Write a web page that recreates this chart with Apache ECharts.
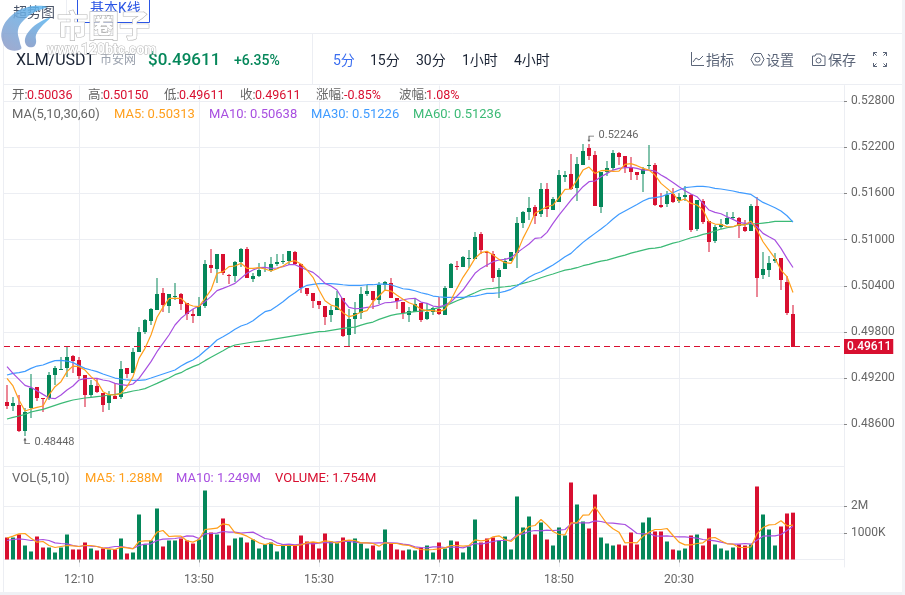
<!DOCTYPE html>
<html>
<head>
<meta charset="utf-8">
<title>XLM/USDT</title>
<script src="https://cdn.jsdelivr.net/npm/echarts@6/dist/echarts.min.js"></script>
<style>
  html, body { margin: 0; padding: 0; background: #fff; }
  #chart { width: 905px; height: 595px; }
</style>
</head>
<body>
<div id="chart"></div>
<script>
// 5 minute candles
const opens = [
  0.48891,0.48839,0.48852,0.48515,0.48813,0.49086,0.48943,0.48943,0.49241,0.49311,
  0.49332,0.49488,0.49436,0.49241,0.48982,0.49099,0.49008,0.48878,0.48969,0.48956,
  0.49332,0.49267,0.49540,0.49800,0.49943,0.50086,0.50307,0.50138,0.50263,0.50294,
  0.50177,0.50034,0.50008,0.50138,0.50670,0.50618,0.50813,0.50545,0.50527,0.50709,
  0.50878,0.50488,0.50527,0.50636,0.50605,0.50683,0.50709,0.50722,0.50839,0.50683,
  0.50371,0.50306,0.50202,0.50137,0.50020,0.50085,0.50241,0.49760,0.49968,0.50046,
  0.50293,0.50332,0.50215,0.50410,0.50436,0.50241,0.50189,0.50020,0.50059,0.50176,
  0.49968,0.50059,0.50098,0.50020,0.50371,0.50657,0.50644,0.50752,0.50748,0.51072,
  0.50839,0.50813,0.50514,0.50618,0.50722,0.50826,0.51215,0.51358,0.51423,0.51332,
  0.51657,0.51384,0.51488,0.51813,0.51851,0.51670,0.51968,0.52189,0.52098,0.51423,
  0.51877,0.51929,0.52124,0.52085,0.51942,0.51877,0.51851,0.51960,0.51968,0.51449,
  0.51462,0.51592,0.51501,0.51553,0.51579,0.51137,0.51501,0.51241,0.50981,0.51163,
  0.51202,0.51280,0.51280,0.51163,0.51111,0.51436,0.50540,0.50605,0.50722,0.50761,
  0.50449,0.50036
];
const closes = [
  0.48839,0.48878,0.48515,0.48761,0.49073,0.48943,0.48930,0.49241,0.49332,0.49319,
  0.49475,0.49423,0.49228,0.48982,0.49112,0.49021,0.48852,0.48982,0.48930,0.49319,
  0.49255,0.49540,0.49800,0.49956,0.50099,0.50294,0.50151,0.50294,0.50272,0.50164,
  0.50034,0.50008,0.50138,0.50683,0.50631,0.50813,0.50566,0.50536,0.50709,0.50878,
  0.50501,0.50527,0.50605,0.50644,0.50683,0.50709,0.50717,0.50852,0.50683,0.50371,
  0.50293,0.50202,0.50150,0.49994,0.50085,0.50241,0.49747,0.49968,0.50046,0.50293,
  0.50332,0.50215,0.50410,0.50449,0.50241,0.50202,0.50046,0.50072,0.50163,0.49955,
  0.50059,0.50111,0.50033,0.50371,0.50683,0.50644,0.50774,0.50761,0.51033,0.50865,
  0.50821,0.50501,0.50605,0.50722,0.50839,0.51215,0.51358,0.51410,0.51306,0.51657,
  0.51397,0.51527,0.51838,0.51838,0.51657,0.51981,0.52150,0.52085,0.51436,0.51877,
  0.51929,0.52124,0.52072,0.51942,0.51877,0.51838,0.51916,0.51968,0.51449,0.51423,
  0.51579,0.51488,0.51553,0.51579,0.51124,0.51514,0.51228,0.50968,0.51163,0.51202,
  0.51280,0.51288,0.51176,0.51111,0.51436,0.50501,0.50618,0.50696,0.50748,0.50475,
  0.50046,0.49611
];
const lows = [
  0.48800,0.48774,0.48506,0.48448,0.48683,0.48900,0.48761,0.48917,0.49112,0.49306,
  0.49220,0.49263,0.49189,0.48830,0.48960,0.49003,0.48761,0.48787,0.48930,0.48934,
  0.49202,0.49263,0.49540,0.49774,0.49891,0.50086,0.50064,0.50047,0.50216,0.50086,
  0.49956,0.49917,0.50008,0.50112,0.50562,0.50432,0.50540,0.50424,0.50450,0.50640,
  0.50497,0.50450,0.50510,0.50579,0.50583,0.50657,0.50683,0.50665,0.50665,0.50310,
  0.50267,0.50111,0.50098,0.49890,0.49929,0.50085,0.49734,0.49618,0.49773,0.49968,
  0.50267,0.50094,0.50163,0.50332,0.50241,0.50098,0.49968,0.49929,0.50059,0.49929,
  0.49955,0.50020,0.50020,0.50020,0.50371,0.50605,0.50644,0.50631,0.50748,0.50813,
  0.50644,0.50449,0.50241,0.50618,0.50722,0.50631,0.51150,0.51254,0.51202,0.51293,
  0.51293,0.51384,0.51488,0.51748,0.51644,0.51501,0.51968,0.52033,0.51436,0.51345,
  0.51826,0.51903,0.51968,0.51864,0.51774,0.51774,0.51618,0.51916,0.51436,0.51410,
  0.51423,0.51475,0.51475,0.51501,0.51098,0.51111,0.51202,0.50838,0.50955,0.51137,
  0.51189,0.51254,0.51020,0.51098,0.51111,0.50254,0.50488,0.50514,0.50696,0.50345,
  0.50020,0.49611
];
const highs = [
  0.49112,0.48960,0.48982,0.48817,0.49255,0.49086,0.48943,0.49280,0.49358,0.49475,
  0.49605,0.49501,0.49475,0.49241,0.49176,0.49189,0.49012,0.49038,0.49133,0.49423,
  0.49332,0.49592,0.49861,0.49965,0.50112,0.50501,0.50372,0.50294,0.50437,0.50307,
  0.50177,0.50099,0.50255,0.50735,0.50878,0.50813,0.50813,0.50553,0.50722,0.50891,
  0.50904,0.50566,0.50692,0.50709,0.50778,0.50813,0.50813,0.50852,0.50852,0.50683,
  0.50371,0.50306,0.50202,0.50137,0.50137,0.50332,0.50241,0.50098,0.50189,0.50384,
  0.50410,0.50332,0.50449,0.50462,0.50501,0.50241,0.50189,0.50124,0.50228,0.50176,
  0.50176,0.50124,0.50254,0.50397,0.50696,0.50722,0.50787,0.50865,0.51098,0.51098,
  0.50852,0.50852,0.50631,0.50761,0.50839,0.51293,0.51371,0.51553,0.51449,0.51735,
  0.51735,0.51553,0.51903,0.51890,0.52111,0.52072,0.52241,0.52246,0.52150,0.51877,
  0.52020,0.52163,0.52137,0.52085,0.52072,0.51877,0.51942,0.52228,0.51994,0.51605,
  0.51631,0.51670,0.51605,0.51696,0.51592,0.51514,0.51527,0.51241,0.51189,0.51267,
  0.51358,0.51358,0.51293,0.51254,0.51462,0.51553,0.50838,0.50787,0.50826,0.50761,
  0.50527,0.50150
];
const ma5 = [
  0.49198,0.49099,0.48917,0.48774,0.48800,0.48821,0.48839,0.48982,0.49090,0.49155,
  0.49285,0.49358,0.49350,0.49306,0.49220,0.49155,0.49025,0.48986,0.48982,0.49003,
  0.49090,0.49220,0.49458,0.49588,0.49761,0.49991,0.50120,0.50237,0.50237,0.50237,
  0.50164,0.50138,0.50129,0.50237,0.50346,0.50562,0.50584,0.50649,0.50657,0.50692,
  0.50627,0.50627,0.50636,0.50618,0.50592,0.50622,0.50657,0.50709,0.50726,0.50683,
  0.50605,0.50510,0.50345,0.50206,0.50150,0.50128,0.50051,0.49999,0.50020,0.50059,
  0.50077,0.50193,0.50267,0.50345,0.50332,0.50276,0.50224,0.50180,0.50150,0.50094,
  0.50077,0.50077,0.50064,0.50094,0.50215,0.50367,0.50510,0.50626,0.50756,0.50830,
  0.50847,0.50800,0.50743,0.50700,0.50691,0.50830,0.51016,0.51168,0.51341,0.51384,
  0.51427,0.51449,0.51544,0.51652,0.51657,0.51773,0.51903,0.51942,0.51860,0.51895,
  0.51899,0.51886,0.51890,0.51977,0.51986,0.51960,0.51925,0.51903,0.51838,0.51730,
  0.51665,0.51600,0.51501,0.51527,0.51470,0.51449,0.51384,0.51232,0.51202,0.51198,
  0.51167,0.51167,0.51198,0.51189,0.51241,0.51124,0.50972,0.50864,0.50756,0.50604,
  0.50518,0.50313
];
const ma10 = [
  0.49350,0.49263,0.49185,0.49107,0.49081,0.49038,0.48990,0.48943,0.48934,0.48982,
  0.49047,0.49099,0.49177,0.49194,0.49198,0.49198,0.49177,0.49164,0.49133,0.49116,
  0.49107,0.49125,0.49198,0.49306,0.49415,0.49544,0.49653,0.49761,0.49891,0.49978,
  0.50042,0.50099,0.50138,0.50194,0.50259,0.50337,0.50367,0.50398,0.50432,0.50497,
  0.50562,0.50605,0.50636,0.50640,0.50626,0.50631,0.50648,0.50674,0.50674,0.50639,
  0.50605,0.50574,0.50510,0.50432,0.50397,0.50345,0.50215,0.50120,0.50102,0.50107,
  0.50120,0.50128,0.50150,0.50180,0.50185,0.50198,0.50219,0.50232,0.50237,0.50189,
  0.50172,0.50137,0.50128,0.50150,0.50193,0.50267,0.50345,0.50453,0.50562,0.50626,
  0.50670,0.50713,0.50735,0.50743,0.50765,0.50830,0.50886,0.50943,0.51016,0.51024,
  0.51094,0.51211,0.51319,0.51414,0.51514,0.51600,0.51687,0.51752,0.51761,0.51817,
  0.51860,0.51903,0.51925,0.51934,0.51938,0.51925,0.51903,0.51903,0.51890,0.51838,
  0.51795,0.51743,0.51687,0.51635,0.51592,0.51557,0.51470,0.51384,0.51353,0.51336,
  0.51297,0.51263,0.51224,0.51211,0.51211,0.51167,0.51081,0.51037,0.50994,0.50886,
  0.50756,0.50638
];
const ma30 = [
  0.49241,0.49263,0.49272,0.49289,0.49328,0.49358,0.49371,0.49402,0.49428,0.49432,
  0.49423,0.49402,0.49363,0.49328,0.49306,0.49285,0.49254,0.49228,0.49202,0.49190,
  0.49177,0.49172,0.49172,0.49177,0.49202,0.49228,0.49254,0.49280,0.49306,0.49358,
  0.49402,0.49436,0.49488,0.49557,0.49622,0.49696,0.49739,0.49783,0.49835,0.49878,
  0.49904,0.49947,0.50008,0.50064,0.50085,0.50137,0.50193,0.50258,0.50310,0.50367,
  0.50406,0.50419,0.50427,0.50427,0.50427,0.50423,0.50414,0.50406,0.50406,0.50406,
  0.50414,0.50414,0.50423,0.50423,0.50414,0.50388,0.50362,0.50354,0.50336,0.50310,
  0.50293,0.50267,0.50258,0.50250,0.50250,0.50250,0.50250,0.50258,0.50267,0.50284,
  0.50302,0.50302,0.50310,0.50328,0.50354,0.50397,0.50453,0.50510,0.50553,0.50583,
  0.50626,0.50669,0.50721,0.50778,0.50821,0.50895,0.50964,0.51024,0.51081,0.51137,
  0.51198,0.51267,0.51328,0.51371,0.51414,0.51457,0.51501,0.51535,0.51544,0.51557,
  0.51587,0.51609,0.51644,0.51674,0.51683,0.51691,0.51691,0.51683,0.51665,0.51657,
  0.51644,0.51631,0.51613,0.51600,0.51587,0.51535,0.51483,0.51449,0.51414,0.51371,
  0.51310,0.51226
];
const ma60 = [
  0.48670,0.48691,0.48709,0.48730,0.48761,0.48778,0.48795,0.48821,0.48847,0.48873,
  0.48895,0.48917,0.48930,0.48943,0.48951,0.48960,0.48969,0.48982,0.48990,0.48999,
  0.49016,0.49034,0.49047,0.49064,0.49099,0.49133,0.49168,0.49202,0.49246,0.49272,
  0.49315,0.49350,0.49380,0.49428,0.49471,0.49514,0.49557,0.49601,0.49631,0.49644,
  0.49657,0.49670,0.49679,0.49687,0.49700,0.49713,0.49726,0.49739,0.49752,0.49765,
  0.49778,0.49791,0.49804,0.49808,0.49821,0.49834,0.49847,0.49856,0.49864,0.49890,
  0.49912,0.49929,0.49964,0.49990,0.50016,0.50033,0.50042,0.50055,0.50064,0.50072,
  0.50085,0.50098,0.50116,0.50137,0.50172,0.50206,0.50237,0.50276,0.50310,0.50345,
  0.50362,0.50367,0.50380,0.50388,0.50397,0.50410,0.50432,0.50453,0.50475,0.50505,
  0.50531,0.50553,0.50579,0.50604,0.50617,0.50635,0.50661,0.50678,0.50700,0.50721,
  0.50734,0.50756,0.50778,0.50799,0.50825,0.50843,0.50864,0.50882,0.50890,0.50903,
  0.50929,0.50955,0.50972,0.50998,0.51024,0.51042,0.51068,0.51085,0.51111,0.51137,
  0.51154,0.51167,0.51189,0.51198,0.51206,0.51206,0.51215,0.51224,0.51237,0.51237,
  0.51237,0.51236
];
// volumes in millions
const volumes = [
  0.824,0.824,0.936,0.524,0.300,0.861,0.449,0.449,0.262,0.449,
  0.936,0.375,0.375,0.637,0.412,0.337,0.412,0.375,0.375,0.787,
  0.225,0.262,1.685,0.562,0.712,1.910,0.487,0.712,0.712,0.787,
  0.712,0.599,0.749,2.584,1.011,0.936,1.536,0.524,0.787,0.824,
  0.637,0.749,0.412,0.562,0.637,0.300,0.562,0.562,0.524,0.899,
  0.674,0.649,0.412,0.974,0.674,0.612,0.824,0.674,0.787,0.599,
  0.412,0.524,0.337,1.124,0.599,0.375,0.337,0.375,0.337,0.449,
  0.524,0.262,0.637,0.412,0.712,0.674,0.262,0.487,1.498,0.637,
  0.787,0.824,0.712,0.861,0.375,2.360,1.199,1.610,0.936,1.386,
  0.749,0.524,1.199,0.899,2.884,2.060,1.423,1.161,2.434,0.824,
  0.599,0.524,0.562,0.524,1.011,0.562,1.386,1.573,1.049,1.049,
  0.674,0.375,0.337,0.412,0.899,0.936,0.524,1.161,0.562,0.412,
  0.337,0.449,0.562,0.524,0.562,2.734,1.685,1.124,0.524,1.236,
  1.723,1.754
];
const volMa5 = [
  0.799,0.874,0.961,0.974,0.799,0.649,0.674,0.524,0.449,0.487,
  0.524,0.512,0.487,0.524,0.524,0.487,0.424,0.399,0.375,0.462,
  0.437,0.399,0.674,0.699,0.699,1.024,1.086,0.861,0.874,0.874,
  0.699,0.649,0.749,1.124,1.149,1.173,1.336,1.298,0.999,0.961,
  0.874,0.749,0.624,0.562,0.624,0.524,0.524,0.524,0.524,0.549,
  0.624,0.662,0.624,0.699,0.674,0.612,0.699,0.724,0.712,0.624,
  0.624,0.599,0.499,0.624,0.599,0.599,0.549,0.524,0.437,0.375,
  0.362,0.375,0.399,0.437,0.524,0.524,0.499,0.524,0.737,0.699,
  0.724,0.849,0.886,0.749,0.674,0.874,1.049,1.236,1.273,1.498,
  1.298,1.049,0.936,0.924,1.373,1.373,1.660,1.673,1.972,1.648,
  1.336,1.149,1.024,0.624,0.637,0.624,0.874,1.024,1.124,1.124,
  1.161,0.899,0.649,0.549,0.549,0.599,0.624,0.799,0.824,0.699,
  0.587,0.574,0.449,0.449,0.474,0.961,1.198,1.298,1.311,1.448,
  1.261,1.288
];
const volMa10 = [
  0.712,0.749,0.774,0.749,0.712,0.724,0.749,0.712,0.624,0.599,
  0.587,0.524,0.487,0.524,0.499,0.487,0.424,0.449,0.487,0.487,
  0.449,0.412,0.524,0.574,0.587,0.712,0.762,0.774,0.786,0.824,
  0.886,0.874,0.786,0.961,0.974,0.986,1.049,1.024,1.024,0.986,
  1.011,1.024,0.911,0.786,0.749,0.624,0.562,0.574,0.549,0.574,
  0.599,0.587,0.612,0.637,0.624,0.662,0.674,0.674,0.649,0.624,
  0.624,0.612,0.624,0.624,0.624,0.612,0.574,0.549,0.474,0.449,
  0.437,0.474,0.474,0.449,0.462,0.462,0.437,0.512,0.599,0.574,
  0.624,0.674,0.712,0.712,0.724,0.924,0.961,1.049,1.086,1.074,
  1.099,1.086,1.099,1.124,1.336,1.373,1.373,1.373,1.448,1.423,
  1.373,1.361,1.336,1.311,1.149,0.974,0.961,0.974,0.886,0.874,
  0.886,0.861,0.849,0.849,0.824,0.799,0.749,0.724,0.699,0.649,
  0.599,0.574,0.574,0.599,0.574,0.724,0.874,0.886,0.886,0.936,
  1.086,1.249
];
const priceTicks = [0.486, 0.492, 0.498, 0.504, 0.51, 0.516, 0.522, 0.528];
const volumeTicks = [1, 2];
const volumeTickLabels = { 1: '1000K', 2: '2M' };

const upColor = '#05875a';
const downColor = '#d80f30';
const ma5Color = '#ff9f1c';
const ma10Color = '#a84fe0';
const ma30Color = '#3f9bff';
const ma60Color = '#3cba76';
const gridColor = '#eceef3';
const font = 'Roboto, "Noto Sans CJK SC", sans-serif';

// 140 slots of 5 minutes from 11:10, the last ones stay empty
const categories = [];
for (let i = 0; i < 140; i++) {
  const m = 11 * 60 + 10 + i * 5;
  categories.push(Math.floor(m / 60) % 24 + ':' + String(m % 60).padStart(2, '0'));
}
const showTick = (i) => i % 20 === 12 && i <= 112;

const candleData = opens.map((o, i) => [i, o, closes[i], lows[i], highs[i]]);
const volumeData = volumes.map((v, i) => ({
  value: v,
  itemStyle: { color: closes[i] >= opens[i] ? upColor : downColor }
}));

// pale 2px wick behind a solid 4px body
function renderCandle(params, api) {
  const i = api.value(0);
  const open = api.value(1);
  const close = api.value(2);
  const x = api.coord([i, open])[0];
  const yOpen = Math.round(api.coord([i, open])[1]);
  const yClose = Math.round(api.coord([i, close])[1]);
  const yLow = Math.round(api.coord([i, api.value(3)])[1]);
  const yHigh = Math.round(api.coord([i, api.value(4)])[1]);
  const color = close >= open ? upColor : downColor;
  return {
    type: 'group',
    children: [
      {
        type: 'rect',
        shape: { x: x - 1, y: yHigh, width: 2, height: Math.max(yLow - yHigh, 1) },
        style: { fill: color, opacity: 0.5 }
      },
      {
        type: 'rect',
        shape: { x: x - 2, y: Math.min(yOpen, yClose), width: 4, height: Math.max(Math.abs(yOpen - yClose), 1) },
        style: { fill: color }
      }
    ]
  };
}

function lineSeries(name, data, color, axisIndex, extra) {
  return Object.assign({
    name: name,
    type: 'line',
    data: data,
    xAxisIndex: axisIndex,
    yAxisIndex: axisIndex,
    showSymbol: false,
    z: 5,
    lineStyle: { color: color, width: 1.2 }
  }, extra || {});
}

function label(x, y, text, color, size, extra) {
  return {
    type: 'text',
    silent: true,
    x: x,
    y: y,
    z: 20,
    style: Object.assign({
      text: text,
      fill: color,
      font: (size || 12) + 'px ' + font,
      textVerticalAlign: 'middle'
    }, extra || {})
  };
}
function rule(x1, y1, x2, y2, color) {
  return {
    type: 'line',
    silent: true,
    z: 1,
    shape: { x1: x1, y1: y1, x2: x2, y2: y2 },
    style: { stroke: color || gridColor, lineWidth: 1 }
  };
}
function stroke(points, closed) {
  return {
    type: closed ? 'polygon' : 'polyline',
    silent: true,
    z: 20,
    shape: { points: points },
    style: { fill: 'none', stroke: '#5b6578', lineWidth: 1 }
  };
}
function ring(cx, cy, r) {
  return {
    type: 'circle',
    silent: true,
    z: 20,
    shape: { cx: cx, cy: cy, r: r },
    style: { fill: 'none', stroke: '#5b6578', lineWidth: 1 }
  };
}
function swirl(points, from, to) {
  return {
    type: 'polygon',
    silent: true,
    z: 30,
    shape: { points: points, smooth: 0.4 },
    style: {
      opacity: 0.85,
      fill: { type: 'linear', x: 0.8, y: 0, x2: 0.2, y2: 1, colorStops: [{ offset: 0, color: from }, { offset: 1, color: to }] }
    }
  };
}

const chrome = [
  // page edges
  { type: 'rect', silent: true, z: 0, shape: { x: 0, y: 592, width: 905, height: 3 }, style: { fill: '#eff1f5' } },
  { type: 'rect', silent: true, z: 0, shape: { x: 902, y: 0, width: 3, height: 595 }, style: { fill: '#f3f4f8' } },
  rule(3.5, 33.5, 902, 33.5), rule(3.5, 33.5, 3.5, 592), rule(3.5, 84.5, 902, 84.5),
  rule(3.5, 466.5, 844.5, 466.5), rule(312.5, 33.5, 312.5, 84.5), rule(66.5, 0, 66.5, 33.5),
  // tabs
  label(13, 13, '超势图', '#4a5468', 14),
  label(90, 9, '基本K线', '#2a55e5', 14),
  { type: 'polyline', silent: true, z: 2, shape: { points: [[77.5, 0], [77.5, 22.5], [149.5, 22.5], [149.5, 0]] }, style: { fill: 'none', stroke: '#2a55e5', lineWidth: 1 } },
  // top bar
  label(16, 61, 'XLM/USDT', '#1b2435', 16),
  label(100, 61, '币安网', '#9aa1ad', 12),
  label(148, 61, '$0.49611', upColor, 17, { font: '500 17px ' + font }),
  label(234, 61, '+6.35%', upColor, 14, { font: '500 14px ' + font }),
  label(333, 61, '5分', '#3b6ef0', 14),
  label(370, 61, '15分', '#1b2435', 14),
  label(416, 61, '30分', '#1b2435', 14),
  label(462, 61, '1小时', '#1b2435', 14),
  label(514, 61, '4小时', '#1b2435', 14),
  label(706, 61, '指标', '#5b6578', 14),
  label(766, 61, '设置', '#5b6578', 14),
  label(828, 61, '保存', '#5b6578', 14),
  // toolbar icons
  stroke([[691.5, 52], [691.5, 65.5], [704, 65.5]]),
  stroke([[693, 62], [696, 58], [699, 60], [703, 56]]),
  stroke([[754, 53.5], [761, 53.5], [764, 59.5], [761, 65], [754, 65], [751, 59.5]], true),
  ring(757.5, 59.5, 2.5),
  stroke([[812.5, 56], [815, 56], [816, 54], [821, 54], [822, 56], [825, 56], [825, 65.5], [812.5, 65.5]], true),
  ring(818.5, 60.5, 2.5),
  stroke([[873.5, 56], [873.5, 52.5], [877, 52.5]]), stroke([[873.5, 52.5], [876.5, 55.5]]),
  stroke([[883, 52.5], [886.5, 52.5], [886.5, 56]]), stroke([[886.5, 52.5], [883.5, 55.5]]),
  stroke([[873.5, 63], [873.5, 66.5], [877, 66.5]]), stroke([[873.5, 66.5], [876.5, 63.5]]),
  stroke([[883, 66.5], [886.5, 66.5], [886.5, 63]]), stroke([[886.5, 66.5], [883.5, 63.5]]),
  // quote row
  label(12, 96, '开:', '#666', 12.5), label(27, 96, '0.50036', downColor, 12.5),
  label(88, 96, '高:', '#666', 12.5), label(103, 96, '0.50150', downColor, 12.5),
  label(164, 96, '低:', '#666', 12.5), label(179, 96, '0.49611', downColor, 12.5),
  label(240, 96, '收:', '#666', 12.5), label(255, 96, '0.49611', downColor, 12.5),
  label(316, 96, '涨幅:', '#666', 12.5), label(344, 96, '-0.85%', downColor, 12.5),
  label(399, 96, '波幅:', '#666', 12.5), label(426, 96, '1.08%', downColor, 12.5),
  // moving average row
  label(12, 114.5, 'MA(5,10,30,60)', '#666', 13),
  label(114, 114.5, 'MA5: 0.50313', ma5Color, 13),
  label(209, 114.5, 'MA10: 0.50638', ma10Color, 13),
  label(311, 114.5, 'MA30: 0.51226', ma30Color, 13),
  label(413, 114.5, 'MA60: 0.51236', ma60Color, 13),
  // volume row
  label(12, 478.5, 'VOL(5,10)', '#666', 13),
  label(85, 478.5, 'MA5: 1.288M', ma5Color, 13),
  label(176, 478.5, 'MA10: 1.249M', ma10Color, 13),
  label(275, 478.5, 'VOLUME: 1.754M', downColor, 13),
  // site watermark
  swirl([[47, 7], [28, 7], [11, 16], [2, 30], [3, 43], [10, 50], [21, 49], [20, 43], [18, 30], [24, 20], [35, 12]], '#5db4ee', '#8c9cc8'),
  swirl([[50, 18], [40, 22], [30, 30], [25, 39], [27, 46], [33, 47], [36, 43], [36, 35], [42, 26]], '#5db4ee', '#7f97c6'),
  Object.assign(label(57, 25, '市圈子', '#fff', 31, { font: 'bold 31px "Noto Sans CJK SC", sans-serif', stroke: '#b4b4b4', lineWidth: 1.2 }), { z: 31 }),
  Object.assign(label(47, 50, 'www.120btc.com', '#fff', 14, { font: 'bold 14px ' + font, stroke: '#b5b5b5', lineWidth: 1 }), { z: 31 })
];

const chart = echarts.init(document.getElementById('chart'));
chart.setOption({
  animation: false,
  backgroundColor: '#fff',
  textStyle: { fontFamily: font },
  graphic: chrome,
  grid: [
    { left: 4, width: 840, top: 85.6, height: 385 },
    { left: 4, width: 840, top: 467, height: 100 }
  ],
  xAxis: [
    {
      type: 'category',
      gridIndex: 0,
      data: categories,
      axisLine: { show: false },
      axisTick: { show: false },
      axisLabel: { show: false },
      splitLine: { show: true, interval: showTick, alignWithLabel: true, lineStyle: { color: gridColor } }
    },
    {
      type: 'category',
      gridIndex: 1,
      data: categories,
      axisLine: { lineStyle: { color: gridColor } },
      axisTick: { show: true, length: 3, interval: showTick, alignWithLabel: true, lineStyle: { color: '#999' } },
      axisLabel: { interval: showTick, color: '#666', fontSize: 12, margin: 7 },
      splitLine: { show: true, interval: showTick, alignWithLabel: true, lineStyle: { color: gridColor } }
    }
  ],
  yAxis: [
    {
      type: 'value',
      gridIndex: 0,
      position: 'right',
      min: 0.48,
      max: 0.53,
      axisLine: { show: true, lineStyle: { color: gridColor } },
      axisTick: { show: true, length: 3, customValues: priceTicks, lineStyle: { color: '#888' } },
      axisLabel: {
        customValues: priceTicks,
        color: '#666',
        fontSize: 12,
        margin: 7,
        padding: [0, 0, 3, 0],
        formatter: (v) => v.toFixed(5)
      },
      splitLine: { show: true, lineStyle: { color: gridColor } }
    },
    {
      type: 'value',
      gridIndex: 1,
      position: 'right',
      min: -0.281,
      max: 3.464,
      axisLine: { show: true, lineStyle: { color: gridColor } },
      axisTick: { show: true, length: 3, customValues: volumeTicks, lineStyle: { color: '#888' } },
      axisLabel: {
        customValues: volumeTicks,
        color: '#666',
        fontSize: 12,
        margin: 7,
        padding: [0, 0, 3, 0],
        formatter: (v) => volumeTickLabels[v]
      },
      splitLine: { show: true, lineStyle: { color: gridColor } }
    }
  ],
  series: [
    {
      name: 'K',
      type: 'custom',
      data: candleData,
      encode: { x: 0, y: [1, 2, 3, 4] },
      renderItem: renderCandle,
      clip: true,
      z: 2
    },
    lineSeries('MA60', ma60, ma60Color, 0),
    lineSeries('MA30', ma30, ma30Color, 0),
    lineSeries('MA10', ma10, ma10Color, 0),
    lineSeries('MA5', ma5, ma5Color, 0, {
      markLine: {
        silent: true,
        symbol: 'none',
        precision: 5,
        data: [{ yAxis: closes[closes.length - 1] }],
        lineStyle: { color: downColor, type: [6, 4], width: 1 },
        label: {
          position: 'end',
          distance: 0,
          formatter: '0.49611',
          color: '#fff',
          fontWeight: 500,
          fontSize: 12,
          backgroundColor: downColor,
          padding: [2, 2, 1, 3]
        }
      },
      markPoint: {
        silent: true,
        itemStyle: { color: 'transparent', borderColor: '#666', borderWidth: 1 },
        data: [
          {
            coord: [97, 0.52246],
            symbol: 'path://M6,0 L1,0 L1,5 M0,3.5 L1,5 L2,3.5',
            symbolSize: [6, 5],
            symbolOffset: [2, -5],
            label: { show: true, position: 'right', distance: 4, offset: [0, -3], formatter: '0.52246', color: '#666', fontSize: 11 }
          },
          {
            coord: [3, 0.48448],
            symbol: 'path://M0,1.5 L1,0 L2,1.5 M1,0 L1,4 L6,4',
            symbolSize: [6, 5],
            symbolOffset: [2, 5],
            label: { show: true, position: 'right', distance: 4, offset: [0, 1], formatter: '0.48448', color: '#666', fontSize: 11 }
          }
        ]
      }
    }),
    {
      name: 'VOL',
      type: 'bar',
      xAxisIndex: 1,
      yAxisIndex: 1,
      data: volumeData,
      barWidth: 4
    },
    lineSeries('VOL MA10', volMa10, ma10Color, 1),
    lineSeries('VOL MA5', volMa5, ma5Color, 1)
  ]
});
</script>
</body>
</html>
